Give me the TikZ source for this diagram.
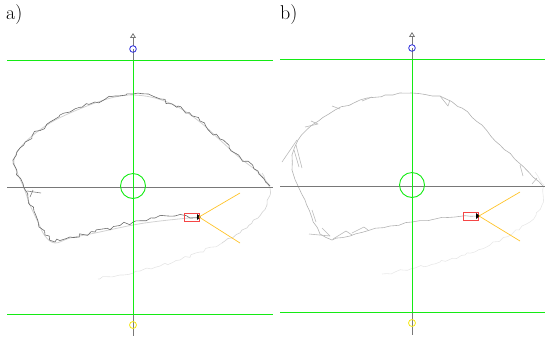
\documentclass[tikz,border=0pt]{standalone}
\usetikzlibrary{arrows.meta,decorations.pathmorphing}
\definecolor{lgreen}{RGB}{20,235,20}
\definecolor{axgray}{RGB}{120,120,120}
\definecolor{cblue}{RGB}{40,40,220}
\definecolor{cyellow}{RGB}{245,230,20}
\definecolor{cred}{RGB}{245,70,70}
\definecolor{corange}{RGB}{255,195,40}
\tikzset{
  guide/.style={lgreen, line width=0.9},
  axis/.style={axgray, line width=0.8},
  marker/.style={line width=0.8},
  traj/.style={line width=0.6, line join=round},
  jag/.style={decorate, decoration={random steps, segment length=4.5pt, amplitude=2.2pt}},
  jagt/.style={decorate, decoration={random steps, segment length=4pt, amplitude=1.6pt}},
  jagb/.style={decorate, decoration={random steps, segment length=7pt, amplitude=1pt}},
  lab/.style={font=\fontsize{20}{22}\selectfont, inner sep=0pt, anchor=north west}
}
\begin{document}
\begin{tikzpicture}[x=1bp, y=-1bp]
\useasboundingbox (0,0) rectangle (545,341);
% ---------- panel a ----------
\node[lab] (la) at (6,4) {a)};
% faint tail of trajectory
\pgfmathsetseed{7}
\draw[traj, gray!35, jagt] (262,173) -- (270,188) -- (267,205) -- (258,218) -- (242,230) -- (222,243);
\pgfmathsetseed{8}
\draw[traj, gray!20, jagt] (222,243) -- (200,252) -- (180,260) -- (160,266) -- (140,271) -- (120,275) -- (98,279);
% smooth underlying path
\draw[traj, gray!35, line width=0.8] plot[smooth, tension=0.6] coordinates {(199,217) (160,221) (133,225) (95,233) (70,238) (55,243) (45,236) (38,222) (30,205) (24,188) (17,172) (14,160) (20,148) (32,136) (50,123) (70,113) (95,103) (115,97) (133,95) (155,98) (178,107) (200,122) (220,140) (240,158) (258,172) (270,186)};
\pgfmathsetseed{3}
\draw[traj, gray!85!black, jag] (199,217) -- (175,216) -- (155,218) -- (133,222) -- (95,232) -- (70,237) -- (55,242) -- (45,235) -- (38,221) -- (30,205) -- (24,188) -- (17,172) -- (13,160) -- (20,148) -- (32,136) -- (50,122) -- (70,112) -- (95,102) -- (115,96) -- (133,94) -- (155,97) -- (178,106) -- (200,121) -- (220,139) -- (240,157) -- (258,171) -- (270,186);
\draw[traj, gray] (27,191) -- (41,193) (33,190) -- (30,197);
% axes & guides
\draw[axis] (7,187) -- (273,187);
\draw[axis] (133,49) -- (133,336);
\draw[axis, -{Triangle[open, length=5, width=6]}] (133,46) -- (133,33);
\draw[guide] (7,60) -- (273,60);
\draw[guide] (7,314) -- (273,314);
\draw[guide] (133,60) -- (133,314);
\draw[guide] (133,186) circle[radius=12.5];
\draw[marker, cblue] (133,49) circle[radius=3.3];
\draw[marker, cyellow] (133,325) circle[radius=3.5];
\draw[marker, cred] (184,213) rectangle (199,221);
\fill[black] (197,214) -- (201,217) -- (197,220) -- cycle;
\draw[corange, line width=0.7] (240,193) -- (199,217) -- (240,243);
% ---------- panel b ----------
\node[lab] (lb) at (280,4) {b)};
\pgfmathsetseed{11}
\draw[traj, gray!18, jagt] (535,172) -- (544,185) -- (542,205) -- (530,222) -- (512,234) -- (490,245) -- (465,255) -- (440,262) -- (415,268) -- (395,272) -- (382,274);
\pgfmathsetseed{5}
\draw[traj, gray!60, jagb] (478,216) -- (455,217) -- (435,219) -- (412,222) -- (390,226) -- (370,230) -- (350,236) -- (332,240) -- (320,234) -- (312,218) -- (305,200) -- (298,186) -- (292,170) -- (292,155) -- (298,140) -- (312,125) -- (335,110) -- (360,100) -- (385,95) -- (412,93) -- (440,96) -- (462,108) -- (482,125) -- (500,145) -- (518,162) -- (533,177) -- (543,186);
\draw[traj, gray!55] (297,140) -- (282,162) (296,145) -- (302,168) (294,150) -- (299,167)
  (309,234) -- (330,236) -- (322,228) (333,239) -- (346,231) -- (352,235)
  (352,233) -- (364,227) -- (368,230) (305,127) -- (318,124) -- (311,121)
  (340,109) -- (332,106) (362,101) -- (372,97) (440,96) -- (448,106) -- (450,100)
  (520,165) -- (523,176) (537,178) -- (532,184) (312,210) -- (316,222);
% axes & guides
\draw[axis] (280,186) -- (545,186);
\draw[axis] (412,48) -- (412,335);
\draw[axis, -{Triangle[open, length=5, width=6]}] (412,45) -- (412,32);
\draw[guide] (280,59) -- (545,59);
\draw[guide] (280,312) -- (545,312);
\draw[guide] (412,59) -- (412,312);
\draw[guide] (412,185) circle[radius=12.5];
\draw[marker, cblue] (412,48) circle[radius=3.3];
\draw[marker, cyellow] (412,323) circle[radius=3.5];
\draw[marker, cred] (463,212) rectangle (478,220);
\fill[black] (476,213) -- (480,216) -- (476,219) -- cycle;
\draw[corange, line width=0.7] (520,192) -- (479,216) -- (520,241);
\end{tikzpicture}
\end{document}
